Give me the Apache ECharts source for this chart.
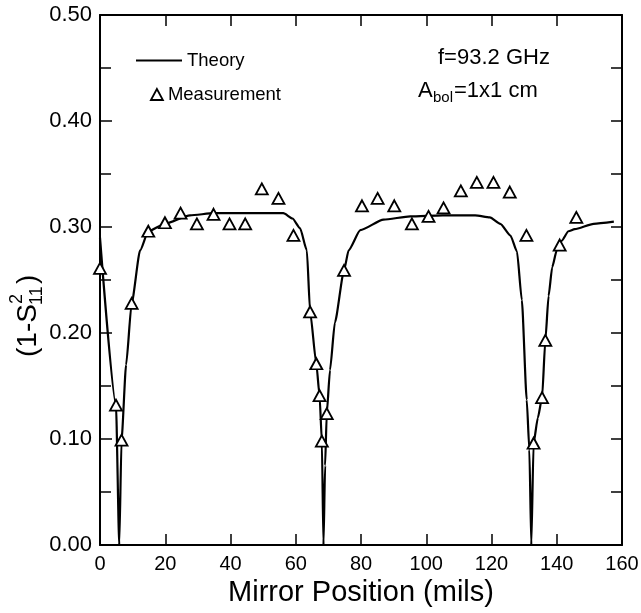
<!DOCTYPE html>
<html>
<head>
<meta charset="utf-8">
<script src="https://cdn.jsdelivr.net/npm/echarts@6/dist/echarts.min.js"></script>
<style>
html,body{margin:0;padding:0;background:#fff;}
#c{width:641px;height:613px;}
</style>
</head>
<body>
<div id="c"></div>
<script>
// Theory curve
var theoryX = [0, 4.9, 5.9, 6.6, 8, 9.7, 12.3, 14.8, 19.9, 27.6, 35, 50, 56.2, 59, 61.3, 63.4, 64.4, 66.3, 67.3, 68.0, 68.5, 69.0, 69.5, 70.5, 72, 74.8, 76.2, 79.8, 86.9, 95.1, 105, 115, 119.5, 122.7, 125.8, 127.8, 129.3, 130.8, 131.6, 132.2, 132.9, 134.2, 135.5, 136.5, 137.5, 138.6, 140, 141.5, 143.6, 145.5, 151.3, 157.5];
var theoryY = [0.29, 0.132, 0, 0.099, 0.17, 0.228, 0.278, 0.296, 0.303, 0.311, 0.313, 0.313, 0.313, 0.308, 0.299, 0.278, 0.22, 0.171, 0.141, 0.098, 0, 0.075, 0.124, 0.165, 0.21, 0.259, 0.278, 0.297, 0.307, 0.310, 0.311, 0.311, 0.309, 0.303, 0.292, 0.277, 0.231, 0.137, 0.09, 0, 0.096, 0.12, 0.139, 0.193, 0.235, 0.262, 0.278, 0.287, 0.296, 0.298, 0.303, 0.305];
// Measurement points
var measX = [0, 4.9, 6.6, 9.7, 14.8, 19.9, 24.7, 29.7, 34.8, 39.7, 44.5, 49.6, 54.7, 59.3, 64.4, 66.3, 67.3, 68.0, 69.5, 74.8, 80.3, 85.1, 90.2, 95.6, 100.7, 105.3, 110.6, 115.5, 120.6, 125.6, 130.7, 132.9, 135.5, 136.5, 140.9, 146.0];
var measY = [0.261, 0.132, 0.099, 0.228, 0.296, 0.304, 0.313, 0.303, 0.312, 0.303, 0.303, 0.336, 0.327, 0.292, 0.220, 0.171, 0.141, 0.098, 0.124, 0.259, 0.320, 0.327, 0.320, 0.303, 0.310, 0.318, 0.334, 0.342, 0.342, 0.333, 0.292, 0.096, 0.139, 0.193, 0.283, 0.309];
var xTicks = [0, 20, 40, 60, 80, 100, 120, 140, 160];
var yTicks = ['0.00', '0.10', '0.20', '0.30', '0.40', '0.50'];

var FONT = '"Liberation Sans", Arial, Helvetica, sans-serif';
var theoryData = theoryX.map(function (x, i) { return [x, theoryY[i]]; });
var measData = measX.map(function (x, i) { return [x, measY[i]]; });

var chart = echarts.init(document.getElementById('c'));
var axisLine = { show: true, onZero: false, lineStyle: { color: '#000', width: 2 } };
chart.setOption({
  animation: false,
  backgroundColor: '#fff',
  grid: { left: 100, right: 19, top: 15, bottom: 68, containLabel: false, outerBoundsMode: 'none' },
  legend: [
    { data: [{ name: 'Theory', icon: 'rect' }], left: 131, top: 46, itemWidth: 46, itemHeight: 2, itemGap: 3,
      textStyle: { fontFamily: FONT, fontSize: 18.5, color: '#000' }, itemStyle: { color: '#000' } },
    { data: [{ name: 'Measurement', icon: 'triangle' }], left: 145, top: 80, itemWidth: 12, itemHeight: 11, itemGap: 28,
      textStyle: { fontFamily: FONT, fontSize: 18.5, color: '#000' },
      itemStyle: { color: '#fff', borderColor: '#000', borderWidth: 1.8, opacity: 1 } }
  ],
  xAxis: [
    { type: 'value', position: 'bottom', min: 0, max: 160, interval: 20,
      name: 'Mirror Position (mils)', nameLocation: 'middle', nameGap: 29,
      nameTextStyle: { fontFamily: FONT, fontSize: 29, color: '#000' },
      axisLine: axisLine, axisTick: { show: true, inside: true, length: 11, lineStyle: { color: '#000', width: 1.5 } },
      axisLabel: { fontFamily: FONT, fontSize: 20, color: '#000', margin: 9,
        formatter: function (v) { return xTicks.indexOf(v) >= 0 ? String(v) : ''; } },
      splitLine: { show: false } },
    { type: 'value', position: 'top', min: 0, max: 160, interval: 20,
      axisLine: axisLine, axisTick: { show: true, inside: true, length: 11, lineStyle: { color: '#000', width: 1.5 } },
      axisLabel: { show: false }, splitLine: { show: false } }
  ],
  yAxis: [
    { type: 'value', position: 'left', min: 0, max: 0.5, interval: 0.1,
      axisLine: axisLine,
      axisTick: { show: true, inside: true, length: 12, lineStyle: { color: '#000', width: 1.5 } },
      minorTick: { show: true, splitNumber: 2, length: 11, lineStyle: { color: '#000', width: 1.5 } },
      axisLabel: { fontFamily: FONT, fontSize: 22, color: '#000', margin: 8,
        formatter: function (v) { return yTicks[Math.round(v * 10)]; } },
      splitLine: { show: false }, minorSplitLine: { show: false } },
    { type: 'value', position: 'right', min: 0, max: 0.5, interval: 0.05,
      axisLine: axisLine,
      axisTick: { show: true, inside: true, length: 11, lineStyle: { color: '#000', width: 1.5 } },
      axisLabel: { show: false }, splitLine: { show: false } }
  ],
  series: [
    { name: 'Theory', type: 'line', data: theoryData, symbol: 'none', smooth: 0.2, smoothMonotone: 'x',
      lineStyle: { color: '#000', width: 2.2 }, itemStyle: { color: '#000' }, z: 2 },
    { name: 'Measurement', type: 'scatter', data: measData, symbol: 'triangle', symbolSize: [12, 11],
      itemStyle: { color: '#fff', borderColor: '#000', borderWidth: 1.8, opacity: 1 }, z: 3 }
  ],
  graphic: [
    { type: 'text', left: 438, top: 47, style: { text: 'f=93.2 GHz', font: '22px ' + FONT, fill: '#000' } },
    { type: 'group', left: 418, top: 80, children: [
      { type: 'text', x: 0, y: 0, style: { text: 'A', font: '22px ' + FONT, fill: '#000' } },
      { type: 'text', x: 15, y: 10, style: { text: 'bol', font: '15px ' + FONT, fill: '#000' } },
      { type: 'text', x: 36, y: 0, style: { text: '=1x1 cm', font: '22px ' + FONT, fill: '#000' } }
    ] },
    { type: 'group', x: 28, y: 357, rotation: Math.PI / 2, children: [
      { type: 'text', x: 0, y: 0, style: { text: '(1-S', font: '28px ' + FONT, fill: '#000', textVerticalAlign: 'middle', textAlign: 'left' } },
      { type: 'text', x: 53, y: -11, style: { text: '2', font: '18px ' + FONT, fill: '#000', textVerticalAlign: 'middle', textAlign: 'left' } },
      { type: 'text', x: 52, y: 9, style: { text: '11', font: '18px ' + FONT, fill: '#000', textVerticalAlign: 'middle', textAlign: 'left' } },
      { type: 'text', x: 73, y: 0, style: { text: ')', font: '28px ' + FONT, fill: '#000', textVerticalAlign: 'middle', textAlign: 'left' } }
    ] }
  ]
});
</script>
</body>
</html>
